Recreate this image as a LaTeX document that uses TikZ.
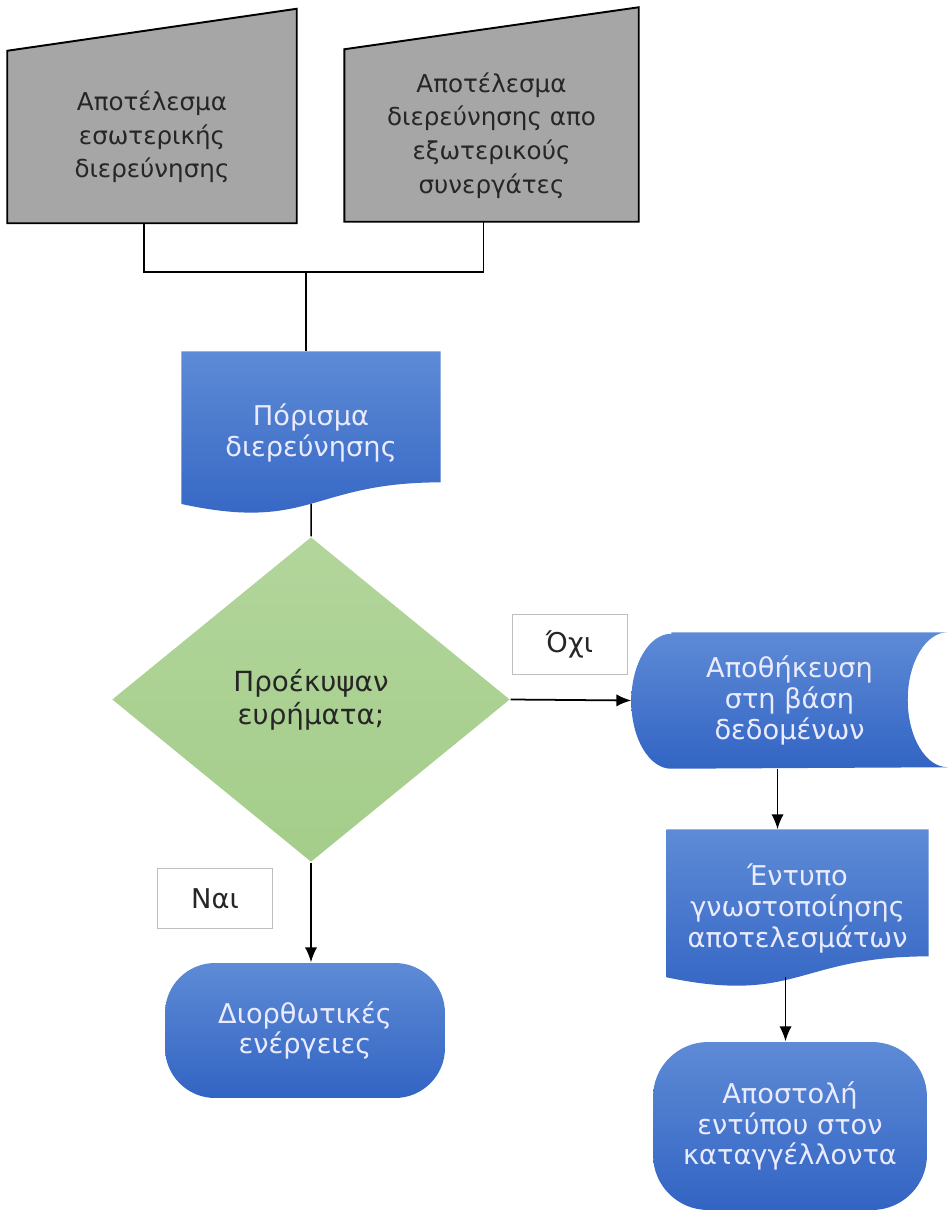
\documentclass[tikz,border=0pt]{standalone}
\usepackage{fontspec}
\setmainfont{DejaVu Sans}
\usetikzlibrary{shapes.geometric,calc,backgrounds,arrows.meta}

\definecolor{boxgray}{RGB}{166,166,166}
\definecolor{bluetop}{RGB}{94,139,214}
\definecolor{bluebot}{RGB}{50,100,195}
\definecolor{greentop}{RGB}{178,213,155}
\definecolor{greenbot}{RGB}{164,205,138}
\definecolor{labelgray}{RGB}{190,190,190}
\definecolor{darktext}{RGB}{38,38,38}

\begin{document}
\begin{tikzpicture}[x=0.02cm ,y=-0.02cm ,
    line width=0.85pt ,
    flow/.style ={ -{Latex[length=8.5pt ,width=7pt]} ,line width=1pt},
    result/.style ={ rectangle ,minimum width =5.76cm ,minimum height =3.42cm ,
    align=center ,text=darktext ,font=\fontsize{14}{19.2}\selectfont},
    blueshape/.style ={ rectangle ,align=center ,text=white!92!blue ,
    font=\fontsize{15.5}{17.5}\selectfont},
    bluefill/.style ={ top color=bluetop ,bottom color=bluebot ,draw=none},
    decision/.style ={ diamond ,inner sep=0pt ,top color=greentop ,bottom color=greenbot ,
    minimum width =7.96cm ,minimum height =6.5cm ,align=center ,text=darktext ,
    font=\fontsize{15.8}{19}\selectfont},
    answer/.style ={ rectangle ,draw=labelgray ,line width=0.5pt ,fill=white ,
    minimum width =2.3cm ,minimum height =1.2cm ,text=darktext ,
    font=\fontsize{15.5}{17}\selectfont}
    ]
    \useasboundingbox (0,0) rectangle (947,1212);

    \node (inner) [result] at (152,137) {Αποτέλεσμα\\εσωτερικής\\διερεύνησης};
    \node (outer) [result ,minimum width=5.86cm] at (491.5,135.5)
      {Αποτέλεσμα\\διερεύνησης απο\\εξωτερικούς\\συνεργάτες};
    \coordinate (join) at (306,272);
    \node (finding) [blueshape ,minimum width=5.16cm ,minimum height=3.24cm] at (311,433)
      {Πόρισμα\\διερεύνησης};
    \coordinate (finding-end) at ($(finding.north)!0.933!(finding.south)$);
    \node (found) [decision] at (311,699.5) {Προέκυψαν\\ευρήματα;};
    \node (no) [answer] at (569.5,644) {Όχι};
    \node (yes) [answer] at (215,898.5) {Ναι};
    \node (store) [blueshape ,minimum width=6.3cm ,minimum height=2.7cm] at (789.5,700.5)
      {Αποθήκευση\\στη βάση\\δεδομένων};
    \node (notice) [blueshape ,minimum width=5.22cm ,minimum height=3.14cm] at (797.5,908.5)
      {Έντυπο\\γνωστοποίησης\\αποτελεσμάτων};
    \coordinate (notice-end) at ($(notice.north)!0.933!(notice.south)$);
    \node (send) [blueshape ,bluefill ,rounded corners=1.1cm ,minimum width=5.48cm ,
      minimum height=3.36cm] at (790,1126) {Αποστολή\\εντύπου στον\\καταγγέλλοντα};
    \node (fix) [blueshape ,bluefill ,rounded corners=1cm ,minimum width=5.6cm ,
      minimum height=2.7cm] at (305,1030.5) {Διορθωτικές\\ενέργειες};

    % shapes behind the texts
    \begin{scope}[on background layer]
    \path[fill=boxgray ,draw=black ,line width=1.1pt] (inner.south west) -- (inner.north west)
      -- ([yshift=0.84cm]inner.north east) -- (inner.south east) -- cycle;
    \path[fill=boxgray ,draw=black ,line width=1.1pt] (outer.south west) -- (outer.north west)
      -- ([yshift=0.84cm]outer.north east) -- (outer.south east) -- cycle;
    \foreach \doc in {finding,notice}
      \path[bluefill] (\doc.north west) -- (\doc.north east)
        -- ($(\doc.north east)!0.802!(\doc.south east)$)
        .. controls ($(\doc.north)!0.802!(\doc.south)$) and ($(\doc.north)!1.107!(\doc.south)$)
        .. ($(\doc.north west)!0.934!(\doc.south west)$) -- cycle;
    \path[bluefill] ([xshift=0.8cm]store.north west) -- (store.north east)
      arc[start angle=90 ,end angle=270 ,x radius=0.8cm ,y radius=1.35cm]
      -- ([xshift=0.8cm]store.south west)
      arc[start angle=270 ,end angle=90 ,x radius=0.8cm ,y radius=1.35cm] -- cycle;
    \end{scope}

    \draw ([xshift=-0.16cm]inner.south) |- (join) -| ([xshift=-0.16cm]outer.south);
    \draw (join) -- (join |- finding.north);
    \draw (finding-end) -- (found.north);
    \draw[flow] (found.east) -- (store.west);
    \draw[flow] (found.south) -- (found.south |- fix.north);
    \draw[flow] ([xshift=-0.24cm]store.south) -- ([xshift=-0.24cm]store.south |- notice.north);
    \draw[flow] ([xshift=-0.24cm]notice-end) -- ([xshift=-0.24cm]notice-end |- send.north);
\end{tikzpicture}
\end{document}
